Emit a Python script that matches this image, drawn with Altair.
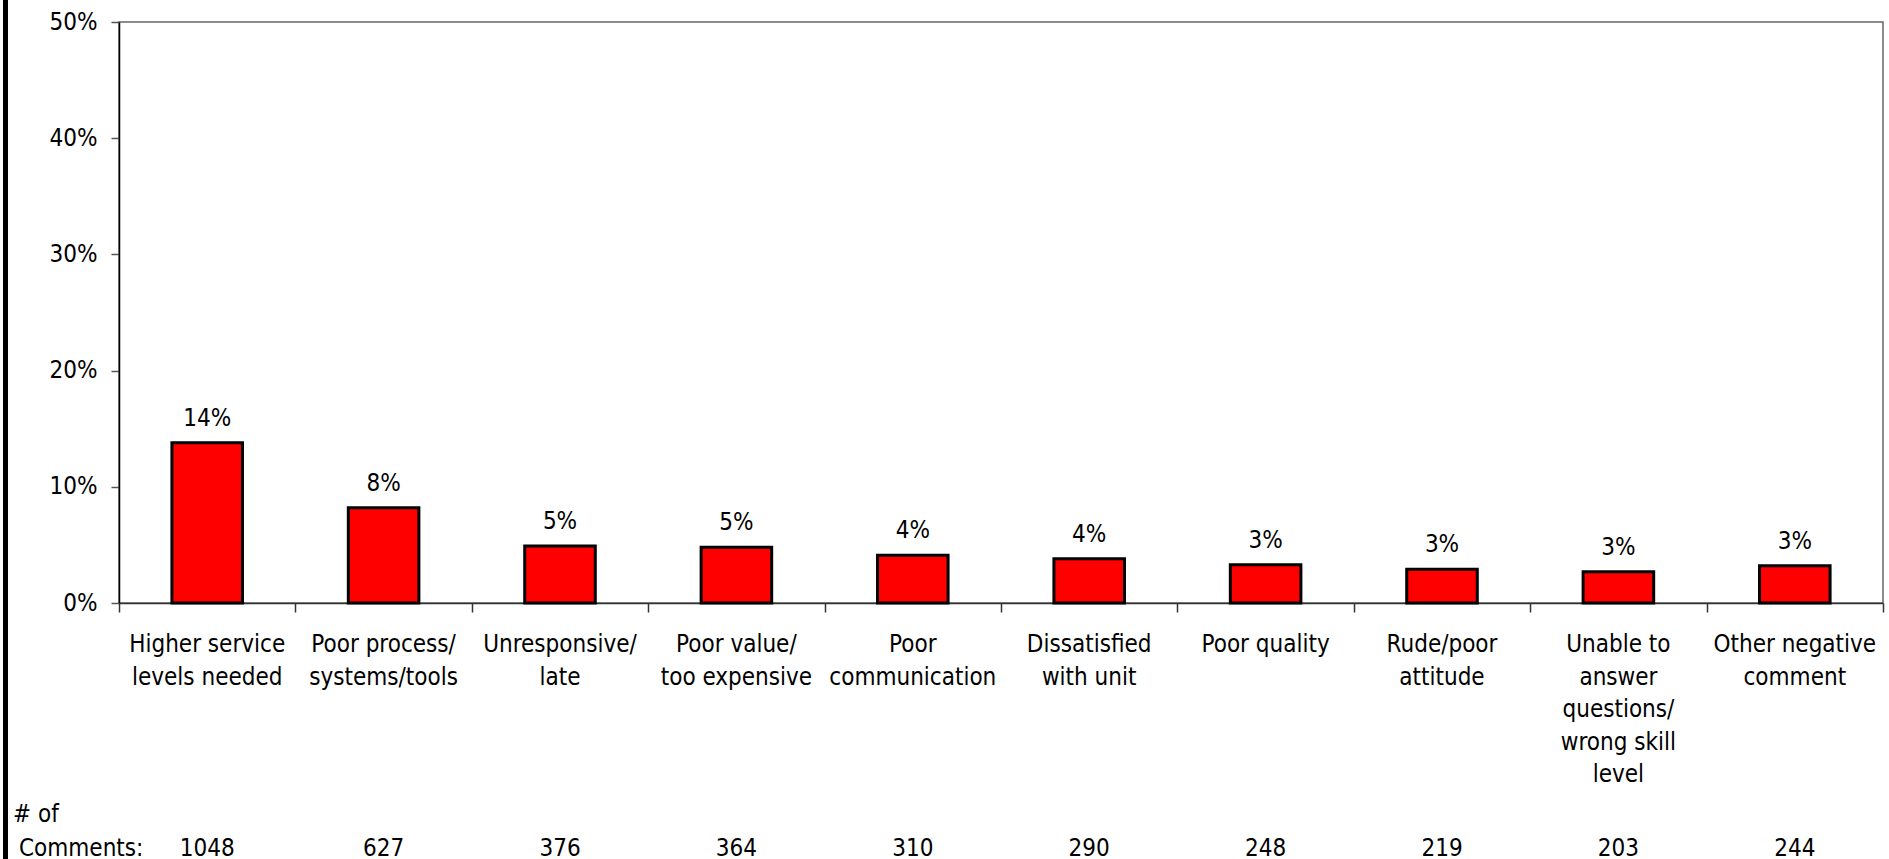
import altair as alt
import pandas as pd

categories = [
    "Higher service\nlevels needed",
    "Poor process/\nsystems/tools",
    "Unresponsive/\nlate",
    "Poor value/\ntoo expensive",
    "Poor\ncommunication",
    "Dissatisfied\nwith unit",
    "Poor quality",
    "Rude/poor\nattitude",
    "Unable to\nanswer\nquestions/\nwrong skill\nlevel",
    "Other negative\ncomment",
]
percent = [0.138, 0.082, 0.049, 0.048, 0.041, 0.038, 0.033, 0.029, 0.027, 0.032]
comments = [1048, 627, 376, 364, 310, 290, 248, 219, 203, 244]
y_ticks = [0, 0.1, 0.2, 0.3, 0.4, 0.5]
row_label_top = ["# of"]
row_label_bottom = ["Comments:"]

FONT = "DejaVu Sans Condensed, Liberation Sans, sans-serif"
FS = 24

df = pd.DataFrame({"cat": categories, "pct": percent, "n": comments})

x = alt.X(
    "cat:N",
    sort=categories,
    scale=alt.Scale(paddingInner=0, paddingOuter=0),
    axis=alt.Axis(
        labels=False, title=None, tickBand="extent", tickSize=9,
        tickColor="#333333", tickWidth=1.5, domainColor="#333333", domainWidth=1.5,
    ),
)
y = alt.Y(
    "pct:Q",
    scale=alt.Scale(domain=[0, 0.5]),
    axis=alt.Axis(
        values=y_ticks, format=".0%", title=None, grid=False,
        tickSize=8, tickColor="#555555", tickWidth=1.5,
        domainColor="black", domainWidth=1.5,
        labelFont=FONT, labelFontSize=FS, labelColor="black", labelPadding=14,
    ),
)

base = alt.Chart(df).encode(x=x)

bars = base.mark_bar(
    width=alt.RelativeBandSize(0.4), color="#FF0000", stroke="black", strokeWidth=3
).encode(y=y)

pct_labels = base.mark_text(
    font=FONT, fontSize=FS, color="black", baseline="alphabetic", dy=-17
).encode(y="pct:Q", text=alt.Text("pct:Q", format=".0%"))

cat_labels = base.mark_text(
    font=FONT, fontSize=FS, color="black", baseline="alphabetic",
    lineBreak="\n", lineHeight=32.5,
).encode(y=alt.value(630), text="cat:N")

count_labels = base.mark_text(
    font=FONT, fontSize=FS, color="black", baseline="alphabetic"
).encode(y=alt.value(834), text="n:Q")

top_label = alt.Chart(pd.DataFrame({"t": row_label_top})).mark_text(
    font=FONT, fontSize=FS, color="black", baseline="alphabetic", align="left"
).encode(x=alt.value(-106), y=alt.value(800), text="t:N")

bottom_label = alt.Chart(pd.DataFrame({"t": row_label_bottom})).mark_text(
    font=FONT, fontSize=FS, color="black", baseline="alphabetic", align="left"
).encode(x=alt.value(-100), y=alt.value(834), text="t:N")

left_bar = alt.Chart(pd.DataFrame({"a": [0]})).mark_rule(
    color="black", strokeWidth=5
).encode(x=alt.value(-113.5), y=alt.value(-22), y2=alt.value(837))

chart = alt.layer(
    bars, pct_labels, cat_labels, count_labels, top_label, bottom_label, left_bar
).properties(
    width=1764,
    height=581,
    autosize=alt.AutoSizeParams(type="none"),
    padding={"left": 119, "top": 22, "right": 6, "bottom": 256},
).configure_view(stroke="#666666", strokeWidth=1.5)

chart.save("out.html", embed_options={"renderer": "svg", "actions": False})
